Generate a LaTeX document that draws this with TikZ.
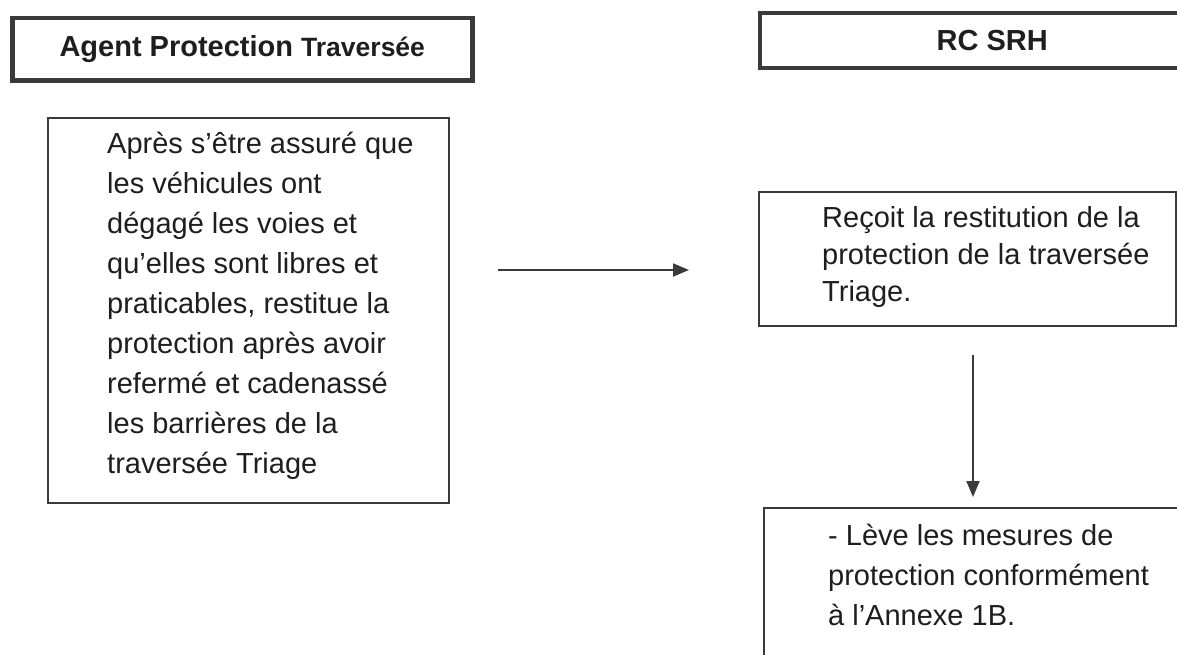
\documentclass[tikz,border=0pt]{standalone}
\usepackage{fontspec}
\setmainfont{Liberation Sans}
\usetikzlibrary{arrows.meta,calc}
\definecolor{ink}{HTML}{1E1E1E}
\definecolor{edge}{HTML}{3A3A3A}
\begin{document}
\begin{tikzpicture}[x=1pt,y=-1pt,
  hdr/.style={draw=edge,line width=4.5pt,fill=white,anchor=north west,inner sep=0pt,text=ink,font=\bfseries\fontsize{29}{34}\selectfont},
  box/.style={draw=edge,line width=1.6pt,anchor=north west,inner sep=0pt},
  txt/.style={anchor=base west,inner sep=0pt,text=ink,align=left},
  conn/.style={draw=edge,line width=2pt,-{Triangle[length=16pt,width=13pt]}}]
\useasboundingbox (0,0) rectangle (1177,654);
\clip (0,0) rectangle (1177,654);
\fill[white] (0,0) rectangle (1177,654);
% headers
\node[hdr,minimum width=460pt,minimum height=62.5pt] (h1) at (10,15.5)
  {Agent Protection {\fontsize{26.5}{30}\selectfont Traversée}};
\node[hdr,minimum width=465pt,minimum height=55pt] (h2) at (757.5,10.5) {RC SRH};
% boxes
\node[box,minimum width=401pt,minimum height=385pt] (b1) at (47,117) {};
\node[box,minimum width=417pt,minimum height=134pt] (b2) at (758,191) {};
\node[box,minimum width=450pt,minimum height=200pt] (b3) at (763,507) {};
% texts (anchored at the baseline of their last line)
\node[txt,font=\fontsize{29}{40}\selectfont] (t1) at (107,473)
  {Après s’être assuré que\\les véhicules ont\\dégagé les voies et\\qu’elles sont libres et\\praticables, restitue la\\protection après avoir\\refermé et cadenassé\\les barrières de la\\traversée Triage};
\node[txt,font=\fontsize{29}{37}\selectfont] (t2) at (822,301)
  {Reçoit la restitution de la\\protection de la traversée\\Triage.};
\node[txt,font=\fontsize{29}{40}\selectfont] (t3) at (828,625)
  {- Lève les mesures de\\protection conformément\\à l’Annexe 1B.};
% connectors
\coordinate (a1s) at (498,270);
\coordinate (a1e) at (689,270);
\coordinate (a2s) at (973,355);
\coordinate (a2e) at (973,497);
\draw[conn] (a1s) -- (a1e);
\draw[conn] (a2s) -- (a2e);
\end{tikzpicture}
\end{document}
